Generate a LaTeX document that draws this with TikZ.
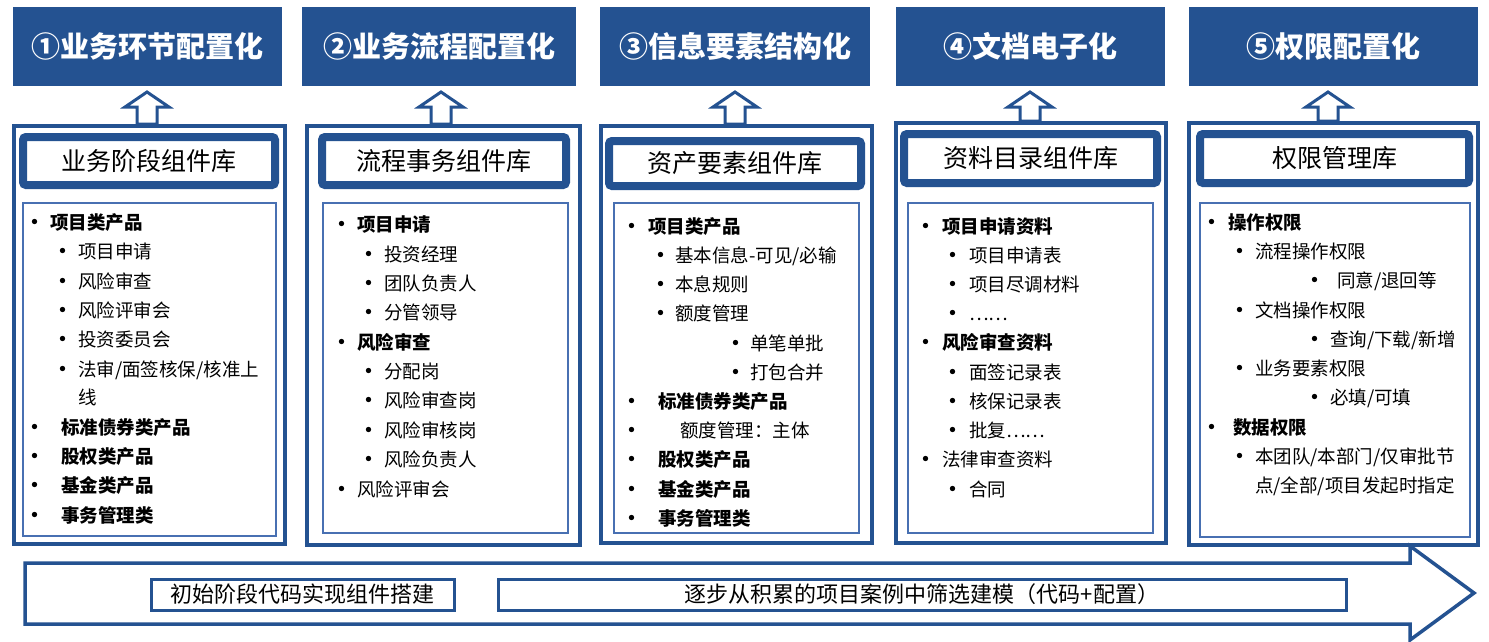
\documentclass[tikz,border=0pt]{standalone}
\usepackage{fontspec}
\setmainfont{Noto Sans CJK SC}
\definecolor{hdr}{RGB}{36,82,145}
\definecolor{lst}{RGB}{72,112,178}
\tikzset{
  hdrbox/.style={fill=hdr, draw=none, text=white, font=\fontsize{29}{30}\selectfont\bfseries},
  outerbox/.style={draw=hdr, line width=3.5pt, fill=white},
  titlebox/.style={draw=hdr, line width=8pt, rounded corners=3pt, fill=white, font=\fontsize{25}{26}\selectfont},
  listbox/.style={draw=lst, line width=1.5pt, fill=white},
  blockarrow/.style={draw=hdr, line width=3pt, fill=white, line join=miter},
  bigarrow/.style={draw=hdr, line width=3.5pt, fill=white, line join=miter},
  botbox/.style={draw=hdr, line width=3pt, fill=white, font=\fontsize{22}{23}\selectfont},
  itm/.style={anchor=west, inner sep=0pt, font=\fontsize{18.5}{20}\selectfont, text height=16pt, text depth=2.5pt},
  itmb/.style={itm, font=\fontsize{18.5}{20}\selectfont\bfseries},
  bul/.style={anchor=center, inner sep=0pt, font=\fontsize{25}{26}\selectfont, text height=20pt, text depth=3pt},
}
% name, style, x1, y1, x2, y2, text
\newcommand\bx[7]{%
  \pgfmathsetmacro\bxw{#5-#3}\pgfmathsetmacro\bxh{#6-#4}%
  \node[#2, minimum width=\bxw pt, minimum height=\bxh pt, inner sep=0pt] (#1) at ({(#3+#5)/2},{(#4+#6)/2}) {#7};}
% name, bullet x, text x, y, text, style
\newcommand\myitem[6]{%
  \node[bul] (#1b) at (#2,#4) {•};
  \node[#6] (#1) at (#3,#4) {#5};}
\begin{document}
\begin{tikzpicture}[x=1pt,y=-1pt]
\fill[white] (0,0) rectangle (1489,642);
\useasboundingbox (0,0) rectangle (1489,642);

% headers
\bx{h1}{hdrbox}{13}{7}{282}{86}{①业务环节配置化}
\bx{h2}{hdrbox}{302}{7}{576}{86}{②业务流程配置化}
\bx{h3}{hdrbox}{600}{7}{870}{86}{③信息要素结构化}
\bx{h4}{hdrbox}{896}{7}{1165}{86}{④文档电子化}
\bx{h5}{hdrbox}{1189}{7}{1478}{86}{⑤权限配置化}

% outer boxes
\bx{o1}{outerbox}{14}{126}{285}{544}{}
\bx{o2}{outerbox}{307}{126}{580}{545}{}
\bx{o3}{outerbox}{601}{126}{872}{543}{}
\bx{o4}{outerbox}{896}{123}{1166}{543}{}
\bx{o5}{outerbox}{1189}{123}{1478}{545}{}

% hollow up arrows
\foreach \cx/\yb in {147/124,441/124,735/124,1030/121,1328/121}{
  \draw[blockarrow] (\cx-10,\yb) -- (\cx-10,107) -- (\cx-22,107) -- (\cx,92)
    -- (\cx+22,107) -- (\cx+10,107) -- (\cx+10,\yb) -- cycle;
}

% title boxes
\bx{t1}{titlebox}{23}{137}{275}{185}{业务阶段组件库}
\bx{t2}{titlebox}{322}{137}{566}{185}{流程事务组件库}
\bx{t3}{titlebox}{609}{141}{861}{186}{资产要素组件库}
\bx{t4}{titlebox}{904}{134}{1157}{183}{资料目录组件库}
\bx{t5}{titlebox}{1200}{134}{1469}{183}{权限管理库}

% list boxes
\bx{l1}{listbox}{23}{203}{276}{536}{}
\bx{l2}{listbox}{323}{203}{568}{533}{}
\bx{l3}{listbox}{614}{203}{859}{533}{}
\bx{l4}{listbox}{908}{203}{1153}{533}{}
\bx{l5}{listbox}{1200}{203}{1470}{537}{}

% column 1
\myitem{a1}{35}{50}{223}{项目类产品}{itmb}
\myitem{a2}{63}{78}{252}{项目申请}{itm}
\myitem{a3}{63}{78}{282}{风险审查}{itm}
\myitem{a4}{63}{78}{311}{风险评审会}{itm}
\myitem{a5}{63}{78}{340}{投资委员会}{itm}
\myitem{a6}{63}{78}{370}{法审/面签核保/核准上}{itm}
\node[itm] (a7) at (78,398) {线};
\myitem{a8}{35}{61}{428}{标准债券类产品}{itmb}
\myitem{a9}{35}{61}{457}{股权类产品}{itmb}
\myitem{a10}{35}{61}{486}{基金类产品}{itmb}
\myitem{a11}{35}{61}{516}{事务管理类}{itmb}

% column 2
\myitem{b1}{342}{357}{225}{项目申请}{itmb}
\myitem{b2}{369}{384}{255}{投资经理}{itm}
\myitem{b3}{369}{384}{284}{团队负责人}{itm}
\myitem{b4}{369}{384}{313}{分管领导}{itm}
\myitem{b5}{342}{357}{343}{风险审查}{itmb}
\myitem{b6}{369}{384}{372}{分配岗}{itm}
\myitem{b7}{369}{384}{401}{风险审查岗}{itm}
\myitem{b8}{369}{384}{431}{风险审核岗}{itm}
\myitem{b9}{369}{384}{460}{风险负责人}{itm}
\myitem{b10}{342}{357}{490}{风险评审会}{itm}

% column 3
\myitem{c1}{632}{648}{227}{项目类产品}{itmb}
\myitem{c2}{661}{675}{256}{基本信息-可见/必输}{itm}
\myitem{c3}{661}{675}{285}{本息规则}{itm}
\myitem{c4}{661}{675}{314}{额度管理}{itm}
\myitem{c5}{736}{750}{344}{单笔单批}{itm}
\myitem{c6}{736}{750}{373}{打包合并}{itm}
\myitem{c7}{632}{658}{402}{标准债券类产品}{itmb}
\myitem{c8}{632}{680}{431}{额度管理：主体}{itm}
\myitem{c9}{632}{658}{460}{股权类产品}{itmb}
\myitem{c10}{632}{658}{490}{基金类产品}{itmb}
\myitem{c11}{632}{658}{519}{事务管理类}{itmb}

% column 4
\myitem{d1}{926}{942}{227}{项目申请资料}{itmb}
\myitem{d2}{953}{969}{256}{项目申请表}{itm}
\myitem{d3}{953}{969}{285}{项目尽调材料}{itm}
\myitem{d4}{953}{969}{314}{……}{itm}
\myitem{d5}{926}{942}{343}{风险审查资料}{itmb}
\myitem{d6}{953}{969}{373}{面签记录表}{itm}
\myitem{d7}{953}{969}{402}{核保记录表}{itm}
\myitem{d8}{953}{969}{431}{批复……}{itm}
\myitem{d9}{926}{942}{460}{法律审查资料}{itm}
\myitem{d10}{953}{969}{490}{合同}{itm}

% column 5
\myitem{e1}{1212}{1228}{223}{操作权限}{itmb}
\myitem{e2}{1240}{1255}{252}{流程操作权限}{itm}
\myitem{e3}{1315}{1337}{281}{同意/退回等}{itm}
\myitem{e4}{1240}{1255}{311}{文档操作权限}{itm}
\myitem{e5}{1315}{1330}{340}{查询/下载/新增}{itm}
\myitem{e6}{1240}{1255}{369}{业务要素权限}{itm}
\myitem{e7}{1315}{1330}{398}{必填/可填}{itm}
\myitem{e8}{1212}{1233}{428}{数据权限}{itmb}
\myitem{e9}{1240}{1255}{457}{本团队/本部门/仅审批节}{itm}
\node[itm] (e10) at (1255,486) {点/全部/项目发起时指定};

% bottom arrow
\draw[bigarrow] (25,563) -- (1410,563) -- (1410,546) -- (1474,593) -- (1410,640)
  -- (1410,624) -- (25,624) -- cycle;
\bx{p1}{botbox}{151}{579}{454}{610}{初始阶段代码实现组件搭建}
\bx{p2}{botbox}{498}{579}{1346}{610}{逐步从积累的项目案例中筛选建模（代码+配置）}
\end{tikzpicture}
\end{document}
